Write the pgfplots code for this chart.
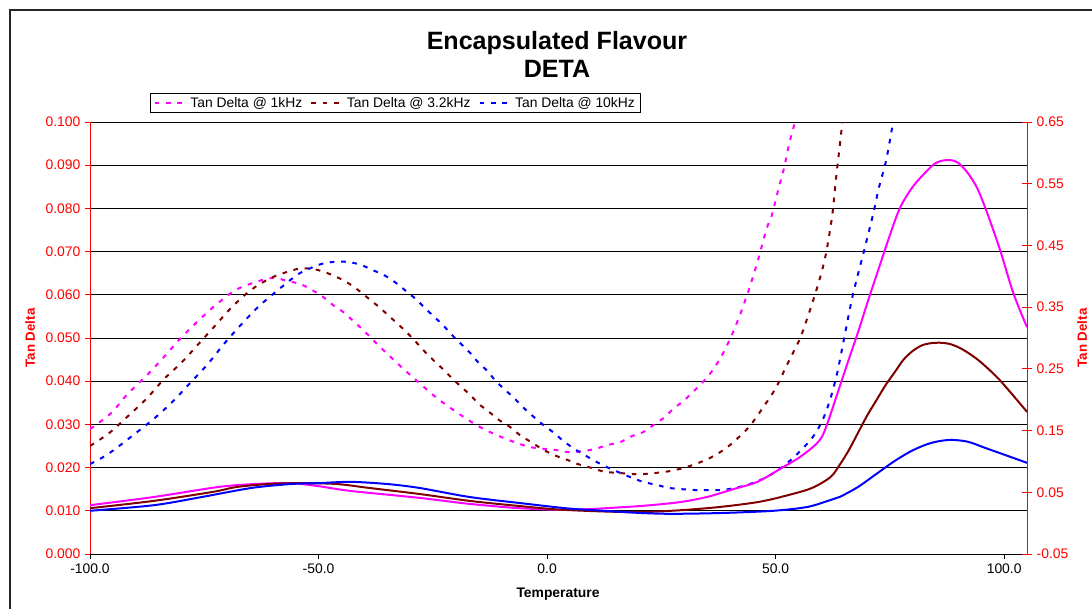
\documentclass[border=0pt]{standalone}
\usepackage{fontspec}
\setmainfont{Liberation Sans}
\usepackage{pgfplots}
\pgfplotsset{compat=1.18}
\definecolor{cmag}{RGB}{255,0,255}
\definecolor{cbrn}{RGB}{128,0,0}
\definecolor{cblu}{RGB}{0,0,255}
\definecolor{cred}{RGB}{255,0,0}
\newcommand{\tf}{\fontsize{10.4}{12.5}\selectfont}
\begin{document}
\begin{tikzpicture}[x=1pt,y=1pt]
\begin{axis}[
  at={(67.5pt,41.25pt)}, anchor=south west,
  scale only axis, width=702.75pt, height=324pt,
  xmin=-100, xmax=105, ymin=0, ymax=0.1,
  axis x line=bottom, axis y line=left,
  x axis line style={black,-,line width=0.6pt},
  y axis line style={cred,-,line width=0.6pt},
  xtick={-100,-50,0,50,100},
  ytick={0,0.01,0.02,0.03,0.04,0.05,0.06,0.07,0.08,0.09,0.1},
  tick align=outside, major tick length=3.75pt,
  xtick style={black,line width=0.6pt},
  ytick style={cred,line width=0.6pt},
  ymajorgrids, grid style={black,line width=0.6pt},
  scaled y ticks=false,
  xticklabel style={font=\tf, black, /pgf/number format/.cd, fixed, fixed zerofill, precision=1, assume math mode=true},
  yticklabel style={font=\tf, cred, /pgf/number format/.cd, fixed, fixed zerofill, precision=3, assume math mode=true},
  legend style={at={(0.064,1.0208)}, anchor=south west, draw=black, line width=0.6pt,
    font=\tf, inner xsep=2.5pt, inner ysep=0.5pt, /tikz/every even column/.append style={column sep=4pt}},
  legend columns=3,
  legend image code/.code={\draw[#1] (0pt,0pt) -- (24pt,0pt);},
  every axis plot/.append style={line width=1.5pt},
]
\addplot[cmag, smooth, dash pattern=on 3.5pt off 5pt] coordinates {
(-100,0.0289) (-95.4,0.0326) (-91.8,0.0370) (-87.7,0.0412) (-84.0,0.0454) (-80.3,0.0498)
(-76.4,0.0539) (-72.2,0.0579) (-67.8,0.0613) (-62.4,0.0634) (-59.5,0.0639) (-56.9,0.0632)
(-54.0,0.0625) (-51.4,0.0611) (-49.0,0.0595) (-46.8,0.0576) (-44.6,0.0560) (-40.5,0.0521)
(-36.5,0.0479) (-32.4,0.0438) (-28.2,0.0398) (-24.1,0.0361) (-19.5,0.0326) (-14.7,0.0294)
(-9.6,0.0269) (-3.9,0.0248) (1.75,0.0241) (4.6,0.0236) (7.7,0.0238) (10.5,0.0243)
(13.1,0.0252) (16.0,0.0259) (18.6,0.0273) (21.0,0.0282) (23.6,0.0301) (25.8,0.0317)
(27.6,0.0336) (29.8,0.0354) (31.9,0.0375) (33.9,0.0396) (36,0.0422) (38,0.0455)
(40,0.0497) (42,0.0548) (44,0.0607) (46,0.0675) (48,0.0752) (49.2,0.0785)
(50.5,0.0840) (51.9,0.0896) (53.0,0.0951) (54.3,0.1002)
};
\addlegendentry{Tan Delta @ 1kHz}
\addplot[cbrn, smooth, dash pattern=on 3.5pt off 5pt] coordinates {
(-100,0.0250) (-95.8,0.0280) (-91.7,0.0319) (-87.5,0.0361) (-83.8,0.0405) (-79.9,0.0444)
(-76.1,0.0488) (-72.5,0.0530) (-69.0,0.0571) (-64.8,0.0611) (-60.0,0.0641) (-54.5,0.0660)
(-51.4,0.0660) (-48.8,0.0653) (-46.0,0.0641) (-43.5,0.0627) (-41.1,0.0609) (-38.9,0.0590)
(-36.8,0.0572) (-34.8,0.0553) (-32.6,0.0532) (-30.6,0.0512) (-28.7,0.0491) (-26.9,0.0470)
(-24.9,0.0449) (-22.8,0.0428) (-20.8,0.0407) (-18.8,0.0387) (-16.8,0.0368) (-14.9,0.0347)
(-12.7,0.0329) (-10.5,0.0310) (-8.1,0.0294) (-5.9,0.0275) (-3.5,0.0259) (-1.1,0.0243)
(1.5,0.0229) (4.4,0.0218) (6.8,0.0208) (9.8,0.0199) (12.7,0.0190) (15.5,0.0188)
(18.4,0.0185) (21.0,0.0185) (24.1,0.0188) (26.9,0.0192) (29.8,0.0199) (32.4,0.0208)
(35.2,0.0220) (37.9,0.0236) (40.0,0.0252) (42.0,0.0271) (44.0,0.0292) (45.7,0.0315)
(47.3,0.0340) (48.8,0.0363) (50.3,0.0389) (52,0.0427) (54,0.0470) (55.4,0.0500)
(57,0.0548) (58.6,0.0600) (60,0.0650) (61.1,0.0700) (62.4,0.0785) (63.2,0.0868)
(64.1,0.0951) (64.6,0.1000)
};
\addlegendentry{Tan Delta @ 3.2kHz}
\addplot[cblu, smooth, dash pattern=on 3.5pt off 5pt] coordinates {
(-100,0.0208) (-97,0.0225) (-94.5,0.0243) (-90.2,0.0278) (-85.8,0.0315) (-81.8,0.0354)
(-77.9,0.0398) (-74.2,0.0440) (-70.7,0.0486) (-67.2,0.0528) (-63.2,0.0572) (-59.1,0.0609)
(-54.7,0.0646) (-52.1,0.0660) (-49.5,0.0671) (-46.8,0.0676) (-43.5,0.0676) (-40.7,0.0669)
(-38.1,0.0657) (-35.4,0.0644) (-33.0,0.0627) (-30.9,0.0609) (-28.7,0.0590) (-26.7,0.0569)
(-24.7,0.0549) (-22.8,0.0530) (-20.8,0.0507) (-18.8,0.0486) (-16.8,0.0465) (-15.1,0.0444)
(-13.1,0.0424) (-11.2,0.0400) (-9.2,0.0380) (-7.2,0.0361) (-5.3,0.0340) (-3.1,0.0319)
(-1.1,0.0301) (1.3,0.0282) (3.3,0.0264) (5.7,0.0245) (7.9,0.0231) (10.5,0.0215)
(13.1,0.0201) (15.5,0.0190) (18.2,0.0178) (21.0,0.0167) (23.9,0.0160) (26.7,0.0153)
(29.5,0.0150) (32.6,0.0148) (35.2,0.0148) (38.3,0.0148) (41.1,0.0153) (43.8,0.0160)
(46.6,0.0171) (49.2,0.0185) (51.4,0.0201) (53.8,0.0222) (56.0,0.0245) (57.8,0.0266)
(59.2,0.0288) (60.6,0.0318) (62,0.0360) (63.5,0.0420) (65,0.0500) (66.9,0.0600)
(69.3,0.0700) (71.3,0.0785) (72.6,0.0848) (74.2,0.0912) (75.7,0.1000)
};
\addlegendentry{Tan Delta @ 10kHz}
\end{axis}
\begin{axis}[
  at={(67.5pt,41.25pt)}, anchor=south west,
  scale only axis, width=702.75pt, height=324pt,
  xmin=-100, xmax=105, ymin=-0.05, ymax=0.65,
  axis x line=none, axis y line*=right,
  y axis line style={cred,-,line width=0.6pt},
  ytick={-0.05,0.05,0.15,0.25,0.35,0.45,0.55,0.65},
  tick align=center, major tick length=7.5pt,
  ytick style={cred,line width=0.6pt},
  scaled y ticks=false,
  yticklabel style={font=\tf, cred, /pgf/number format/.cd, fixed, fixed zerofill, precision=2, assume math mode=true},
  every axis plot/.append style={line width=1.5pt},
]
\addplot[cmag, smooth] coordinates {
(-100,0.0291) (-86,0.0424) (-72,0.0585) (-64,0.0634) (-56,0.0648) (-50,0.0599)
(-43,0.0522) (-28,0.0410) (-17,0.0312) (-6,0.0242) (4,0.0214) (9.4,0.0228)
(20.4,0.0277) (29,0.0340) (35,0.0424) (40.7,0.0550) (46,0.0669) (51,0.0879)
(55.4,0.1075) (59.1,0.1299) (60.8,0.1509) (63.7,0.214) (65.9,0.263) (68.1,0.311)
(70.2,0.360) (72.4,0.409) (74.6,0.458) (76.6,0.500) (78,0.522) (80,0.545)
(82.1,0.563) (84.9,0.583) (87.5,0.5884) (89.7,0.5849) (91.9,0.5688) (94.1,0.5429)
(96.3,0.5023) (99.1,0.4428) (102,0.3728) (105,0.3175)
};
\addplot[cbrn, smooth] coordinates {
(-100,0.0242) (-86,0.0361) (-73,0.0508) (-68,0.0585) (-61,0.0634) (-54,0.0648)
(-46,0.0634) (-39,0.0571) (-28,0.0473) (-17,0.0361) (-6,0.0277) (4,0.0214)
(20.4,0.0179) (35,0.0242) (46,0.0340) (53,0.0459) (58,0.0571) (62,0.0746)
(64,0.0942) (66,0.118) (68,0.146) (70,0.174) (72,0.1985) (74,0.223)
(76,0.244) (78,0.265) (80,0.279) (82,0.288) (84,0.2916) (86,0.2923)
(88,0.2905) (90,0.2850) (92,0.2765) (94.7,0.2620) (99,0.2321) (105,0.1803)
};
\addplot[cblu, smooth] coordinates {
(-100,0.0200) (-86,0.0291) (-75.5,0.0424) (-64.6,0.0571) (-56,0.0634) (-50,0.0648)
(-43,0.0669) (-35,0.0634) (-28,0.0571) (-17,0.0424) (-6,0.0326) (4,0.0242)
(9.4,0.0214) (20.4,0.0165) (27.6,0.0151) (38.5,0.0165) (49.5,0.0200) (57,0.0263)
(62,0.0375) (64,0.0424) (68,0.0585) (72,0.0795) (76,0.1005) (80,0.118)
(84,0.1299) (88,0.1348) (92,0.1320) (96,0.1215) (100,0.1110) (105,0.0977)
};
\end{axis}
\node[font=\fontsize{18.8}{22}\selectfont\bfseries, anchor=base] at (417.75pt,419.25pt) {Encapsulated Flavour};
\node[font=\fontsize{18.8}{22}\selectfont\bfseries, anchor=base] at (417.75pt,398.25pt) {DETA};
\node[font=\fontsize{10}{12}\selectfont\bfseries, cred, rotate=90] at (22.5pt,203.25pt) {Tan Delta};
\node[font=\fontsize{10}{12}\selectfont\bfseries, cred, rotate=90] at (811.5pt,203.25pt) {Tan Delta};
\node[font=\fontsize{10.4}{12}\selectfont\bfseries] at (418.5pt,11pt) {Temperature};
\draw[line width=1.2pt, black!85] (7.5pt,-20pt) rectangle (840pt,449.25pt);
\pgfresetboundingbox
\useasboundingbox (0pt,0pt) rectangle (819pt,456.75pt);
\end{tikzpicture}
\end{document}
